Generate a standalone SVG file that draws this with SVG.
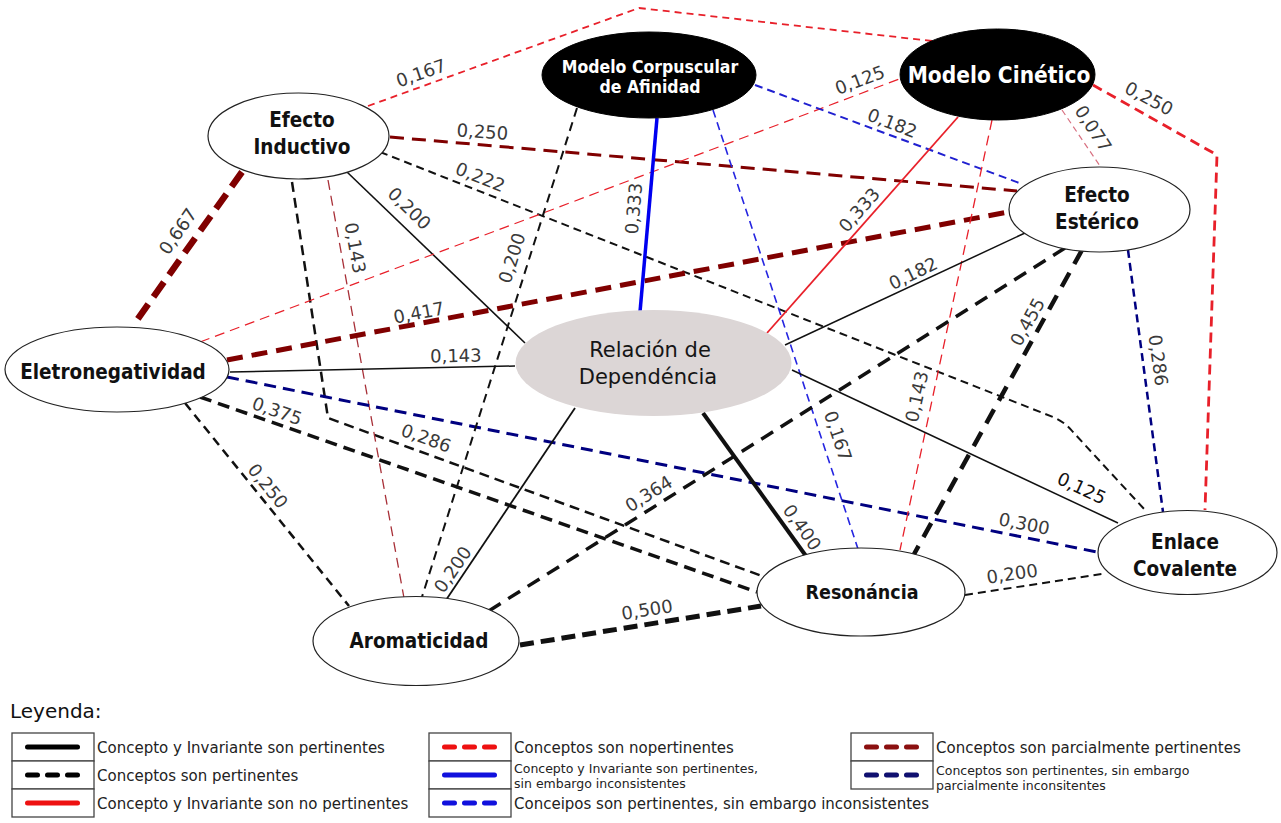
<svg xmlns="http://www.w3.org/2000/svg" width="1281" height="823" viewBox="0 0 1281 823">
<style>
.e{fill:none}
.k{stroke:#111}
.r{stroke:#e8202a}
.dr{stroke:#800000}
.bl{stroke:#0000f0}
.nv{stroke:#000080}
.lbl{font-family:"DejaVu Sans",sans-serif;font-size:18px;fill:#3a3a3a;text-anchor:middle}
.nw{fill:#fff;stroke:#222;stroke-width:1.2}
.nb{fill:#000;stroke:#000}
.nt{font-family:"DejaVu Sans Condensed","DejaVu Sans",sans-serif;font-stretch:condensed;font-weight:bold;font-size:20.5px;fill:#111;text-anchor:middle}
.ntw{font-family:"DejaVu Sans Condensed","DejaVu Sans",sans-serif;font-stretch:condensed;font-weight:bold;fill:#fff;text-anchor:middle}
.lg{font-family:"DejaVu Sans",sans-serif;font-size:15px;fill:#222}
.lgs{font-family:"DejaVu Sans",sans-serif;font-size:12.5px;fill:#222}
.box{fill:#fff;stroke:#444;stroke-width:1.3}
.smp{fill:none;stroke-width:5;stroke-linecap:round}
.sd{stroke-dasharray:10 10}
</style>
<rect width="1281" height="823" fill="#fff"/>
<g id="connectors">
  <path class="e r" d="M368,106 L639,8 L932,41" stroke-width="1.8" stroke-dasharray="7 5"/>
  <path class="e r" d="M1093,85 L1217,155 L1205,510" stroke-width="2.8" stroke-dasharray="10 6"/>
  <path class="e dr" d="M242,172 L137,320" stroke-width="6.5" stroke-dasharray="18 9"/>
  <path class="e dr" d="M390,137 L1017,191" stroke-width="3" stroke-dasharray="14 8"/>
  <path class="e k" d="M380,152 L1053,417 Q1065,422 1073,432 L1145,510" stroke-width="2" stroke-dasharray="8 5"/>
  <path class="e k" d="M347,172 L525,343" stroke-width="1.6"/>
  <path class="e k" d="M292,182 L328,418 L762,576" stroke-width="2.5" stroke-dasharray="10 6"/>
  <path class="e" stroke="#a83038" d="M328,180 L404,598" stroke-width="1.3" stroke-dasharray="10 6"/>
  <path class="e r" d="M200,342 L902,78" stroke-width="1.2" stroke-dasharray="10 6"/>
  <path class="e dr" d="M227,360 L1008,212" stroke-width="5" stroke-dasharray="16 9"/>
  <path class="e k" d="M230,372 L515,366" stroke-width="1.5"/>
  <path class="e nv" d="M227,377 L1097,552" stroke-width="3" stroke-dasharray="12 7"/>
  <path class="e k" d="M200,397 L757,592" stroke-width="3.5" stroke-dasharray="12 7"/>
  <path class="e k" d="M185,403 L349,606" stroke-width="2.5" stroke-dasharray="9 6"/>
  <path class="e k" d="M577,108 L421,600" stroke-width="2" stroke-dasharray="9 6"/>
  <path class="e bl" d="M657,118 L640,312" stroke-width="3.5"/>
  <path class="e" stroke="#2020d0" d="M755,85 L1022,184" stroke-width="2" stroke-dasharray="8 5"/>
  <path class="e" stroke="#2525e0" d="M713,110 L858,549" stroke-width="1.6" stroke-dasharray="8 5"/>
  <path class="e r" d="M958,117 L767,333" stroke-width="1.8"/>
  <path class="e r" d="M992,120 L900,550" stroke-width="1.3" stroke-dasharray="10 6"/>
  <path class="e" stroke="#d87080" d="M1062,110 L1100,166" stroke-width="1.2" stroke-dasharray="6 4"/>
  <path class="e k" d="M1025,233 L785,345" stroke-width="1.5"/>
  <path class="e k" d="M1065,248 L487,612" stroke-width="3.5" stroke-dasharray="14 9"/>
  <path class="e k" d="M1082,250 L913,556" stroke-width="4.5" stroke-dasharray="16 10"/>
  <path class="e nv" d="M1128,250 L1163,512" stroke-width="2.5" stroke-dasharray="8 5"/>
  <path class="e k" d="M792,370 L1118,523" stroke-width="1.5"/>
  <path class="e k" d="M703,413 L806,556" stroke-width="4"/>
  <path class="e k" d="M575,408 L444,603" stroke-width="1.8"/>
  <path class="e k" d="M520,645 L761,606" stroke-width="5" stroke-dasharray="14 7"/>
  <path class="e k" d="M965,595 L1102,574" stroke-width="2" stroke-dasharray="8 5"/>

  <text class="lbl" transform="translate(423,79) rotate(-19)">0,167</text>
  <text class="lbl" transform="translate(1146,104) rotate(28)">0,250</text>
  <text class="lbl" transform="translate(183,235) rotate(-55)">0,667</text>
  <text class="lbl" transform="translate(482,138) rotate(4)">0,250</text>
  <text class="lbl" transform="translate(478,183) rotate(21.5)">0,222</text>
  <text class="lbl" transform="translate(405,213) rotate(44)">0,200</text>
  <text class="lbl" transform="translate(424,444) rotate(20)">0,286</text>
  <text class="lbl" transform="translate(349,249) rotate(80)">0,143</text>
  <text class="lbl" transform="translate(862,86) rotate(-20.7)">0,125</text>
  <text class="lbl" transform="translate(420,319) rotate(-10.8)">0,417</text>
  <text class="lbl" transform="translate(456,362) rotate(-1.2)">0,143</text>
  <text class="lbl" transform="translate(1023,530) rotate(11.3)">0,300</text>
  <text class="lbl" transform="translate(275,417) rotate(19)">0,375</text>
  <text class="lbl" transform="translate(263,490) rotate(51)">0,250</text>
  <text class="lbl" transform="translate(518,260) rotate(-72.6)">0,200</text>
  <text class="lbl" transform="translate(640,209) rotate(-85)">0,333</text>
  <text class="lbl" transform="translate(890,129) rotate(21)">0,182</text>
  <text class="lbl" transform="translate(832,438) rotate(71.4)">0,167</text>
  <text class="lbl" transform="translate(864,214) rotate(-48.8)">0,333</text>
  <text class="lbl" transform="translate(923,398) rotate(-77.5)">0,143</text>
  <text class="lbl" transform="translate(1088,132) rotate(57)">0,077</text>
  <text class="lbl" transform="translate(916,279) rotate(-26)">0,182</text>
  <text class="lbl" transform="translate(652,499) rotate(-32)">0,364</text>
  <text class="lbl" transform="translate(1033,325) rotate(-61)">0,455</text>
  <text class="lbl" transform="translate(1152,361) rotate(82.3)">0,286</text>
  <text class="lbl" transform="translate(1079,494) rotate(25)" style="fill:#111">0,125</text>
  <text class="lbl" transform="translate(797,531) rotate(54.5)">0,400</text>
  <text class="lbl" transform="translate(458,573) rotate(-56)">0,200</text>
  <text class="lbl" transform="translate(648,616) rotate(-9.2)">0,500</text>
  <text class="lbl" transform="translate(1013,580) rotate(-8.2)">0,200</text>
</g>
<g id="efecto-inductivo">
  <ellipse class="nw" cx="298.5" cy="136" rx="90.5" ry="43"/>
  <text class="nt" x="302" y="127">Efecto</text>
  <text class="nt" x="302" y="154">Inductivo</text>
</g>
<g id="modelo-corpuscular">
  <ellipse class="nb" cx="649" cy="75" rx="107" ry="43"/>
  <text class="ntw" x="650" y="72.5" font-size="17.5">Modelo Corpuscular</text>
  <text class="ntw" x="650" y="93" font-size="17.5">de Afinidad</text>
</g>
<g id="modelo-cinetico">
  <ellipse class="nb" cx="997.5" cy="74.5" rx="97.5" ry="45.5"/>
  <text class="ntw" x="999" y="83" font-size="22.5">Modelo Cinético</text>
</g>
<g id="efecto-esterico">
  <ellipse class="nw" cx="1099.5" cy="209.5" rx="90.5" ry="42.5"/>
  <text class="nt" x="1097" y="202">Efecto</text>
  <text class="nt" x="1097" y="229">Estérico</text>
</g>
<g id="eletronegatividad">
  <ellipse class="nw" cx="117" cy="369.5" rx="112" ry="42.5"/>
  <text class="nt" x="113" y="379">Eletronegatividad</text>
</g>
<g id="relacion-dependencia">
  <ellipse cx="653.5" cy="363" rx="138" ry="53" fill="#dcd6d6"/>
  <text x="650" y="357" font-family="DejaVu Sans, sans-serif" font-size="21" fill="#151515" text-anchor="middle">Relación de</text>
  <text x="648" y="384" font-family="DejaVu Sans, sans-serif" font-size="21" fill="#151515" text-anchor="middle">Dependéncia</text>
</g>
<g id="aromaticidad">
  <ellipse class="nw" cx="416" cy="641" rx="103" ry="44.5"/>
  <text class="nt" x="419" y="648">Aromaticidad</text>
</g>
<g id="resonancia">
  <ellipse class="nw" cx="861" cy="592" rx="104" ry="44"/>
  <text class="nt" x="862" y="599" style="font-size:19.5px">Resonáncia</text>
</g>
<g id="enlace-covalente">
  <ellipse class="nw" cx="1187.5" cy="552.5" rx="89.5" ry="42"/>
  <text class="nt" x="1185" y="549">Enlace</text>
  <text class="nt" x="1185" y="576">Covalente</text>
</g>
<g id="legend">
  <text x="10" y="718" font-family="DejaVu Sans, sans-serif" font-size="20" fill="#111">Leyenda:</text>
  <rect class="box" x="12" y="733" width="82" height="28"/>
  <rect class="box" x="12" y="761" width="82" height="28"/>
  <rect class="box" x="12" y="789" width="82" height="28"/>
  <line class="smp" x1="27.5" y1="747" x2="77.5" y2="747" stroke="#000"/>
  <line class="smp sd" x1="27.5" y1="775" x2="77.5" y2="775" stroke="#000"/>
  <line class="smp" x1="27.5" y1="803" x2="77.5" y2="803" stroke="#ee1111"/>
  <text class="lg" x="97" y="753">Concepto y Invariante son pertinentes</text>
  <text class="lg" x="97" y="781">Conceptos son pertinentes</text>
  <text class="lg" x="97" y="809">Concepto y Invariante son no pertinentes</text>

  <rect class="box" x="429" y="733" width="82" height="28"/>
  <rect class="box" x="429" y="761" width="82" height="28"/>
  <rect class="box" x="429" y="789" width="82" height="28"/>
  <line class="smp sd" x1="444.5" y1="747" x2="494.5" y2="747" stroke="#ee1111"/>
  <line class="smp" x1="444.5" y1="775" x2="494.5" y2="775" stroke="#1111dd"/>
  <line class="smp sd" x1="444.5" y1="803" x2="494.5" y2="803" stroke="#1111dd"/>
  <text class="lg" x="514" y="753">Conceptos son nopertinentes</text>
  <text class="lgs" x="514" y="773">Concepto y Invariante son pertinentes,</text>
  <text class="lgs" x="514" y="788">sin embargo inconsistentes</text>
  <text class="lg" x="514" y="809">Conceipos son pertinentes, sin embargo inconsistentes</text>

  <rect class="box" x="851" y="733" width="82" height="28"/>
  <rect class="box" x="851" y="761" width="82" height="28"/>
  <line class="smp sd" x1="866.5" y1="747" x2="916.5" y2="747" stroke="#8b1010"/>
  <line class="smp sd" x1="866.5" y1="775" x2="916.5" y2="775" stroke="#101070"/>
  <text class="lg" x="936" y="753">Conceptos son parcialmente pertinentes</text>
  <text class="lgs" x="936" y="775">Conceptos son pertinentes, sin embargo</text>
  <text class="lgs" x="936" y="790">parcialmente inconsitentes</text>
</g>
</svg>
